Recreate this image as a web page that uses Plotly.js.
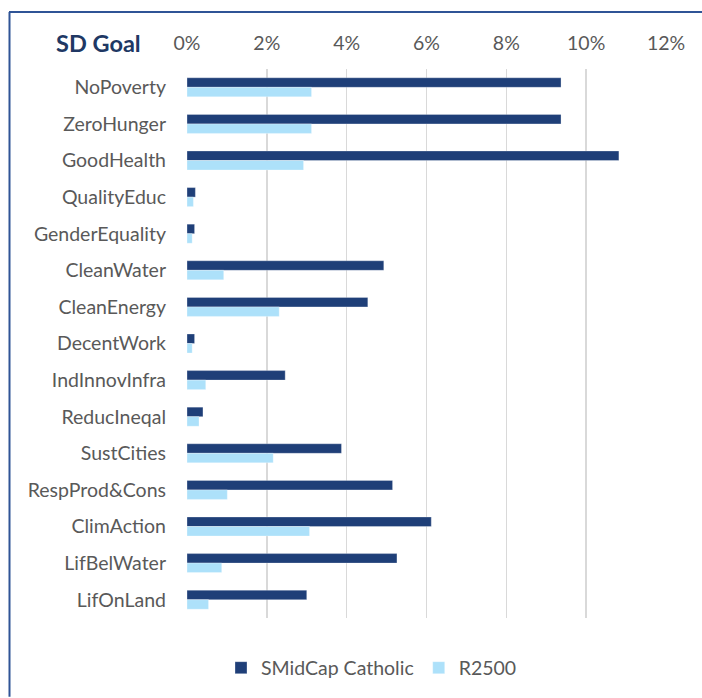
<!DOCTYPE html>
<html>
<head>
<meta charset="utf-8">
<script src="https://cdn.plot.ly/plotly-3.0.1.min.js"></script>
<style>
  html, body { margin: 0; padding: 0; background: #fff; }
  #chart { width: 702px; height: 698px; }
</style>
</head>
<body>
<div id="chart"></div>
<script>
const categories = ["NoPoverty","ZeroHunger","GoodHealth","QualityEduc","GenderEquality","CleanWater","CleanEnergy","DecentWork","IndInnovInfra","ReducIneqal","SustCities","RespProd&Cons","ClimAction","LifBelWater","LifOnLand"];
const smidcapCatholic = [0.0937,0.0937,0.1082,0.0021,0.0019,0.0493,0.0453,0.0019,0.0246,0.0040,0.0387,0.0515,0.0612,0.0526,0.0300];
const r2500 = [0.0312,0.0312,0.0292,0.0016,0.0013,0.0092,0.0231,0.0013,0.0047,0.0030,0.0216,0.0101,0.0307,0.0087,0.0054];
const tickVals = [0,0.02,0.04,0.06,0.08,0.10,0.12];
const tickText = ["0%","2%","4%","6%","8%","10%","12%"];
const seriesNames = ["SMidCap Catholic","R2500"];

const FONT = "Lato, 'Open Sans', sans-serif";
const W = 702, H = 698;
const M = {l: 187, r: 36, t: 69, b: 79};
const pw = W - M.l - M.r, ph = H - M.t - M.b;
const px2x = p => (p - M.l) / pw;
const py2y = p => 1 - (p - M.t) / ph;

const traces = [
  {type: "bar", orientation: "h", name: seriesNames[0], y: categories, x: smidcapCatholic,
   marker: {color: "#1F3F78", line: {color: "rgba(255,255,255,0.6)", width: 0.5}}, hoverinfo: "none"},
  {type: "bar", orientation: "h", name: seriesNames[1], y: categories, x: r2500,
   marker: {color: "#ADE1FA", line: {color: "rgba(255,255,255,0.6)", width: 0.5}}, hoverinfo: "none"}
];

const layout = {
  width: W, height: H,
  margin: M,
  paper_bgcolor: "#fff", plot_bgcolor: "#fff",
  barmode: "group", bargap: 0.48, bargroupgap: 0,
  font: {family: FONT, color: "#595959", size: 19.5},
  showlegend: true,
  legend: {orientation: "h", x: px2x(221), xanchor: "left", y: py2y(668), yanchor: "middle",
           font: {family: FONT, size: 19.5, color: "#595959"}, itemwidth: 30, traceorder: "normal",
           itemclick: false, itemdoubleclick: false},
  xaxis: {side: "top", range: [0, 0.12], tickvals: tickVals, ticktext: tickText,
          showgrid: true, gridcolor: "#D9D9D9", gridwidth: 1.5, zeroline: false, showline: false,
          ticks: "", ticklabelstandoff: 14, tickfont: {family: FONT, size: 19.5, color: "#595959"},
          fixedrange: true},
  yaxis: {type: "category", autorange: "reversed", showgrid: false, zeroline: false, showline: false,
          ticks: "", ticklabelstandoff: 20, tickfont: {family: FONT, size: 19.5, color: "#595959"},
          fixedrange: true},
  annotations: [
    {text: "<b>SD Goal</b>", xref: "paper", yref: "paper", x: px2x(54), y: py2y(43),
     xanchor: "left", yanchor: "middle", showarrow: false,
     font: {family: FONT, size: 23.5, color: "#203864"}}
  ],
  shapes: [
    {type: "line", xref: "paper", yref: "paper", x0: px2x(9), x1: px2x(702), y0: py2y(12), y1: py2y(12),
     line: {color: "#2F5496", width: 2}},
    {type: "line", xref: "paper", yref: "paper", x0: px2x(9.5), x1: px2x(9.5), y0: py2y(12), y1: py2y(698),
     line: {color: "#2F5496", width: 2}}
  ]
};

Plotly.newPlot("chart", traces, layout, {displayModeBar: false, staticPlot: true});
</script>
</body>
</html>
